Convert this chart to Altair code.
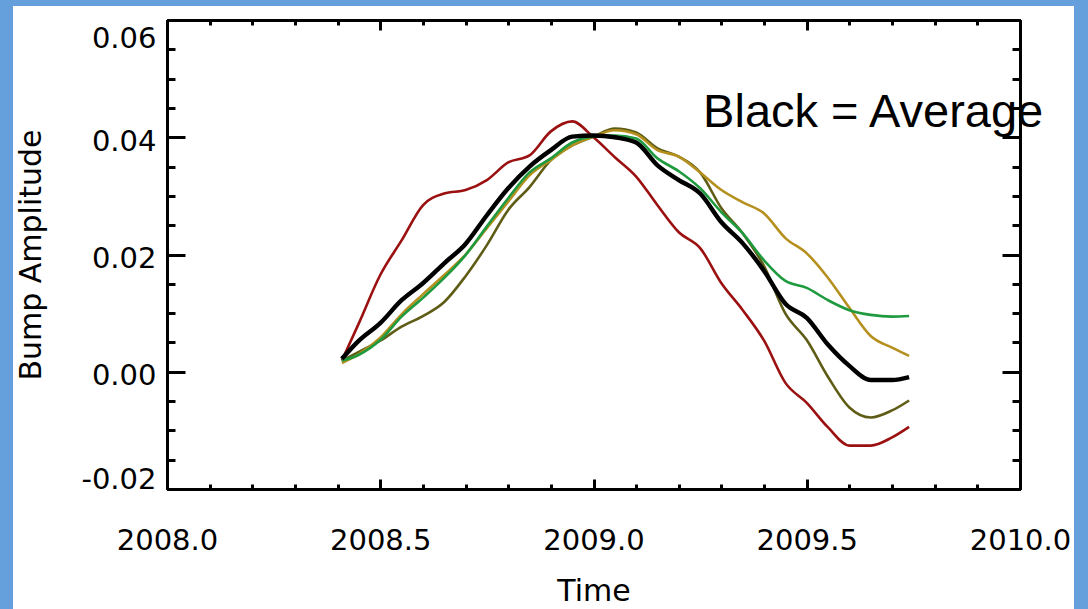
import altair as alt
import pandas as pd

# Sample times (decimal years) shared by all curves
time = [2008.41, 2008.45, 2008.50, 2008.55, 2008.60, 2008.65, 2008.70, 2008.75,
        2008.80, 2008.85, 2008.90, 2008.95, 2009.00, 2009.05, 2009.10, 2009.15,
        2009.20, 2009.25, 2009.30, 2009.35, 2009.40, 2009.45, 2009.50, 2009.55,
        2009.60, 2009.65, 2009.70, 2009.74]

olive = [0.0019, 0.0034, 0.0053, 0.0077, 0.0095, 0.0119, 0.0163, 0.0216, 0.0276, 0.0315,
         0.0361, 0.0386, 0.0401, 0.0415, 0.0408, 0.0381, 0.0367, 0.0340, 0.0279, 0.0236,
         0.0180, 0.0099, 0.0054, -0.0009, -0.0061, -0.0078, -0.0066, -0.0049]
gold = [0.0015, 0.0030, 0.0058, 0.0098, 0.0132, 0.0165, 0.0200, 0.0245, 0.0290, 0.0335,
        0.0361, 0.0386, 0.0401, 0.0412, 0.0405, 0.0378, 0.0367, 0.0340, 0.0310, 0.0289,
        0.0270, 0.0228, 0.0202, 0.0160, 0.0109, 0.0061, 0.0041, 0.0027]
red = [0.0019, 0.0083, 0.0165, 0.0224, 0.0284, 0.0304, 0.0310, 0.0327, 0.0357, 0.0369,
       0.0410, 0.0427, 0.0400, 0.0366, 0.0333, 0.0284, 0.0238, 0.0211, 0.0151, 0.0105,
       0.0053, -0.0019, -0.0053, -0.0095, -0.0126, -0.0126, -0.0112, -0.0094]
green = [0.0019, 0.0029, 0.0054, 0.0094, 0.0126, 0.0160, 0.0199, 0.0248, 0.0296, 0.0340,
         0.0364, 0.0391, 0.0401, 0.0403, 0.0398, 0.0364, 0.0342, 0.0313, 0.0272, 0.0236,
         0.0190, 0.0155, 0.0143, 0.0122, 0.0105, 0.0097, 0.0094, 0.0095]
average = [0.0022, 0.0053, 0.0083, 0.0122, 0.0151, 0.0185, 0.0218, 0.0267, 0.0313, 0.0350,
           0.0378, 0.0401, 0.0403, 0.0400, 0.0391, 0.0352, 0.0327, 0.0304, 0.0255, 0.0219,
           0.0172, 0.0116, 0.0092, 0.0046, 0.0010, -0.0014, -0.0014, -0.0009]

series_names = ["olive", "gold", "red", "green"]
series_colors = ["#5f5c15", "#b5901f", "#9b1010", "#1f9a3f"]

# Axis labels and tick positions
x_label_values = [2008.0, 2008.5, 2009.0, 2009.5, 2010.0]
x_minor_values = [round(2008.0 + 0.1 * i, 1) for i in range(21)]
y_label_values = [-0.02, 0.0, 0.02, 0.04, 0.06]
y_minor_values = [round(-0.02 + 0.005 * i, 3) for i in range(17)]

note_text = "Black = Average"
note_time = [2009.257]
note_amp = [0.0417]

rows = []
for name, vals in zip(series_names, [olive, gold, red, green]):
    rows.append(pd.DataFrame({"time": time, "amp": vals, "series": name}))
df = pd.concat(rows, ignore_index=True)
df_avg = pd.DataFrame({"time": time, "amp": average})
df_note = pd.DataFrame({"time": note_time, "amp": note_amp, "label": [note_text]})

W, H = 853, 469
FONT = "DejaVu Sans"

x_scale = alt.Scale(domain=[2008.0, 2010.0], nice=False, zero=False)
y_scale = alt.Scale(domain=[-0.02, 0.06], nice=False, zero=False)

x_axis = alt.Axis(
    values=x_label_values, format=".1f", ticks=False, domain=False, grid=False,
    labelFont=FONT, labelFontSize=29, labelColor="black", labelPadding=37,
    labelFlush=False, labelOverlap=False, labelBound=False,
    title="Time", titleFont=FONT, titleFontSize=30, titleFontWeight="normal",
    titleColor="black", titleY=102, titleBaseline="middle", zindex=1,
)
y_axis = alt.Axis(
    values=y_label_values,
    labelExpr="replace(format(datum.value, '.2f'), '\u2212', '-')",
    ticks=False, domain=False, grid=False,
    labelFont=FONT, labelFontSize=29, labelColor="black", labelPadding=11,
    labelBaseline="middle", labelFlush=False, labelOverlap=False, labelBound=False,
    labelOffset={"condition": [{"test": "datum.value > 0.05", "value": 18},
                               {"test": "datum.value < -0.015", "value": -10}],
                 "value": 4},
    title="Bump Amplitude", titleFont=FONT, titleFontSize=30, titleFontWeight="normal",
    titleColor="black", titleAngle=270, titleX=-136, titleY=H / 2,
    titleBaseline="middle", titleAlign="center", zindex=1,
)

X = alt.X("time:Q", scale=x_scale, axis=x_axis)
Y = alt.Y("amp:Q", scale=y_scale, axis=y_axis)

# white panel behind the plot
panel = alt.Chart(df_note).mark_rect(color="white").encode(
    x=alt.value(-154), x2=alt.value(907), y=alt.value(-14), y2=alt.value(589)
)

runs = alt.Chart(df).mark_line(strokeWidth=2.6, clip=True, interpolate="monotone").encode(
    x=X, y=Y,
    color=alt.Color("series:N", scale=alt.Scale(domain=series_names, range=series_colors),
                    legend=None),
    detail="series:N",
)

avg_line = alt.Chart(df_avg).mark_line(
    color="black", strokeWidth=4.4, clip=True, interpolate="monotone"
).encode(x=X, y=Y)

note = alt.Chart(df_note).mark_text(
    align="left", baseline="alphabetic", font="Liberation Sans", fontSize=47, color="black"
).encode(x=X, y=Y, text="label:N")

main = alt.layer(panel, runs, avg_line, note)


def tick_axis(orient, offset, values, size):
    return alt.Axis(
        orient=orient, offset=offset, values=values, labels=False,
        domain=True, domainColor="black", domainWidth=3,
        grid=False, title=None, tickColor="black", tickWidth=3,
        tickSize=size, zindex=1,
    )


def tick_layer(x_orient, y_orient, xv, yv, xs, ys):
    # axes drawn on the opposite edge of the frame so the ticks point inward
    return alt.Chart(df_avg).mark_point(opacity=0).encode(
        x=alt.X("time:Q", scale=x_scale, axis=tick_axis(x_orient, -H, xv, xs)),
        y=alt.Y("amp:Q", scale=y_scale, axis=tick_axis(y_orient, -W, yv, ys)),
    )


ticks = [
    tick_layer("top", "right", x_label_values, y_label_values, 10, 18),
    tick_layer("top", "right", x_minor_values, y_minor_values, 5, 8),
    tick_layer("bottom", "left", x_label_values, y_label_values, 10, 18),
    tick_layer("bottom", "left", x_minor_values, y_minor_values, 5, 8),
]

chart = alt.layer(main, *ticks).resolve_axis(
    x="independent", y="independent"
).properties(
    width=W, height=H,
    autosize=alt.AutoSizeParams(type="none"),
    padding={"left": 167, "top": 20, "right": 68, "bottom": 120},
    background="#65a0dc",
).configure_view(stroke=None)

chart.save("out.html", embed_options={"renderer": "svg", "actions": False})
